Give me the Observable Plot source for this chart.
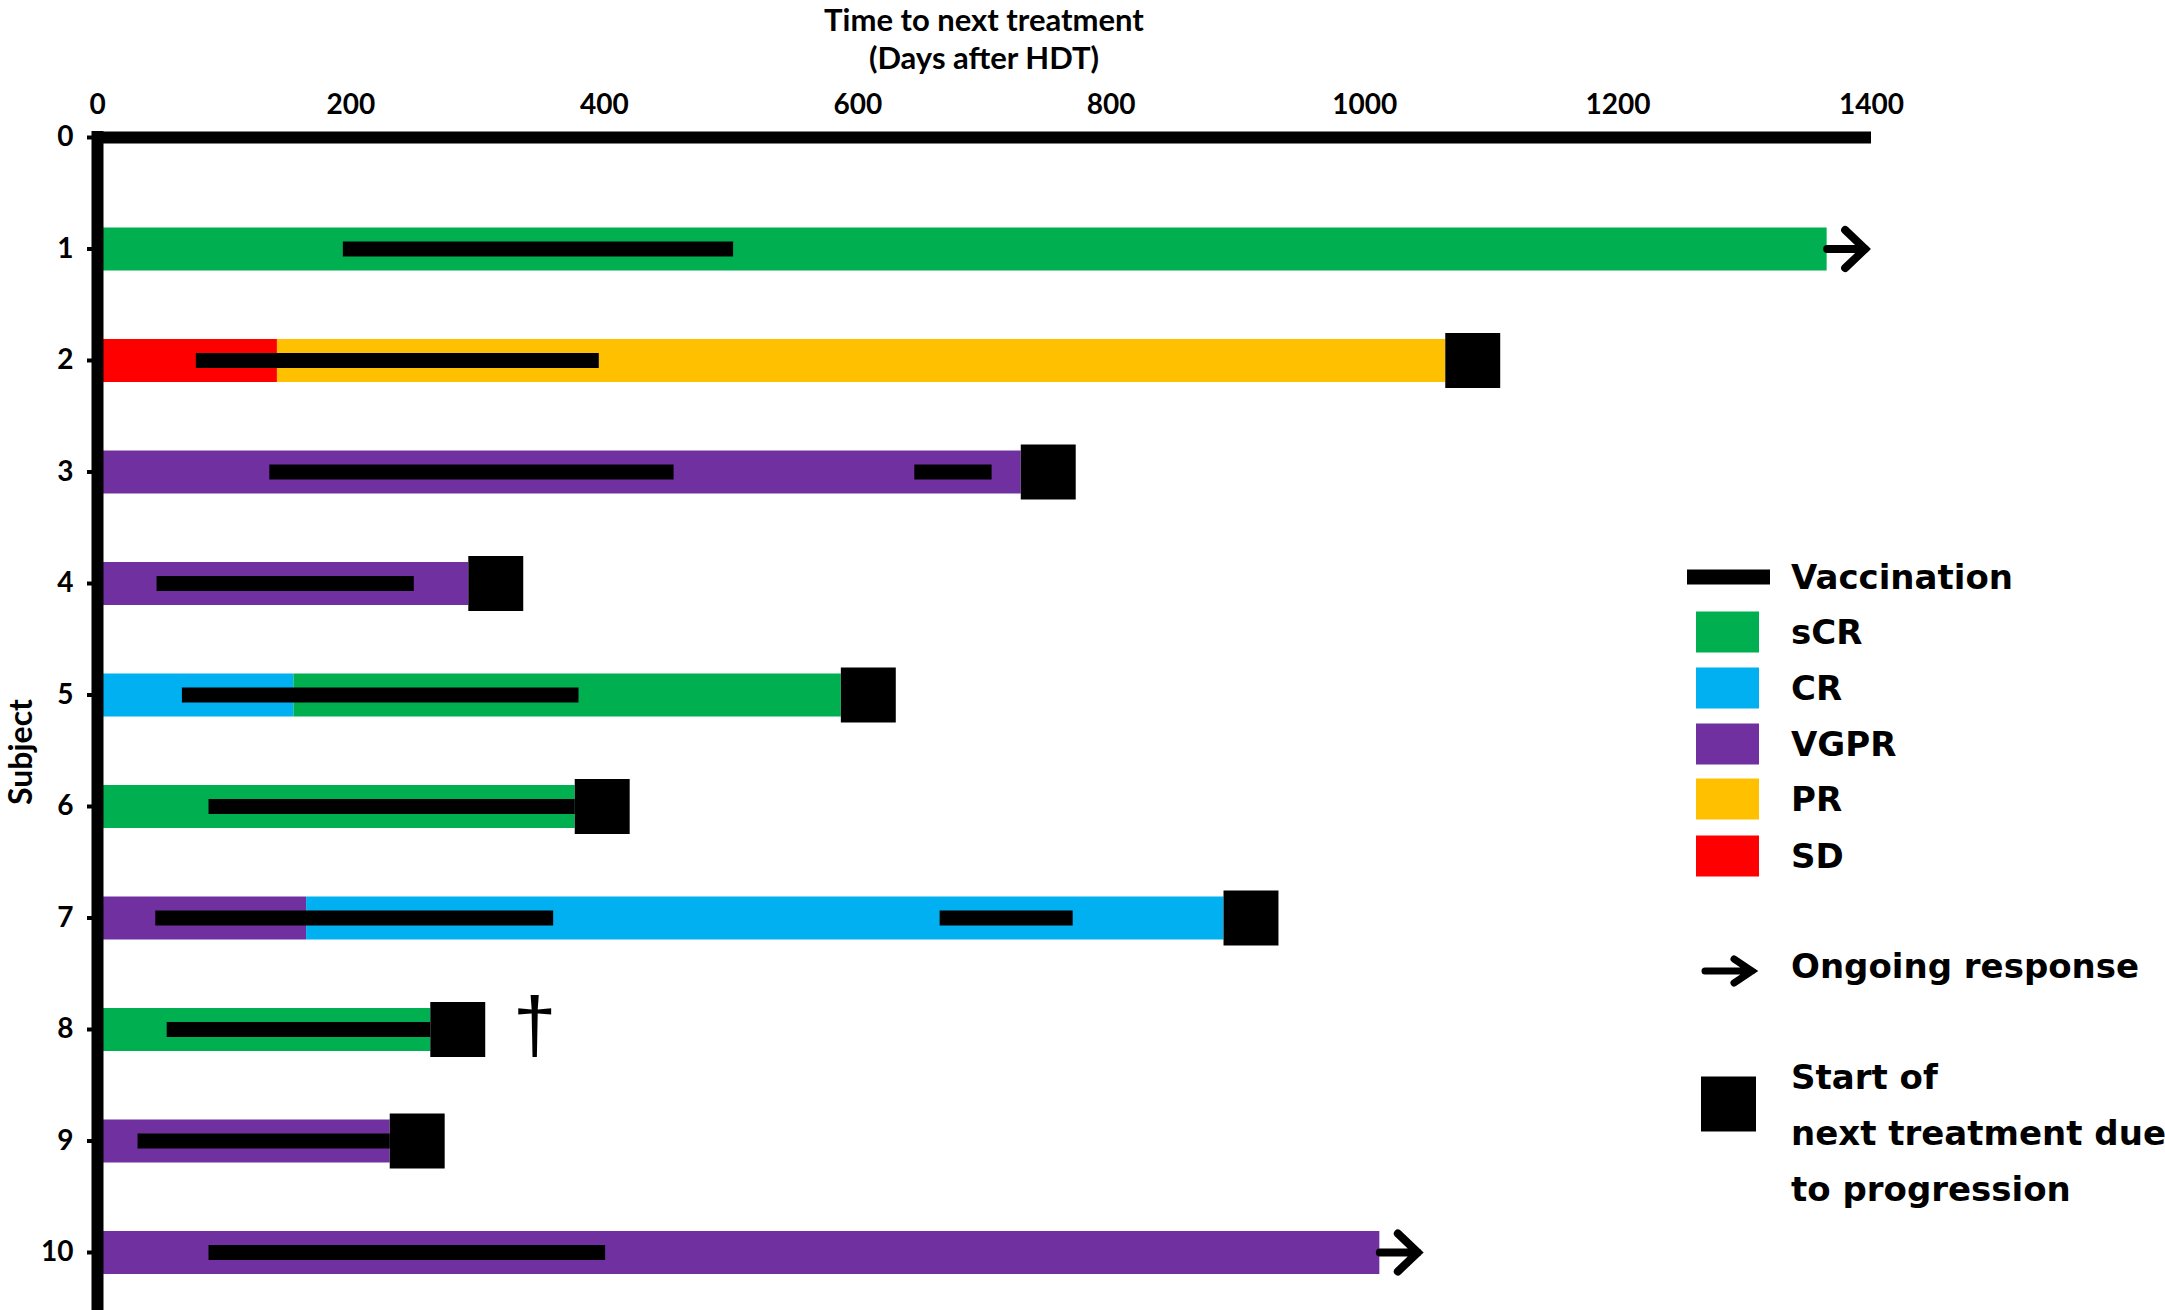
<!DOCTYPE html>
<html>
<head>
<meta charset="utf-8">
<script src="https://cdn.jsdelivr.net/npm/d3@7"></script>
<script src="https://cdn.jsdelivr.net/npm/@observablehq/plot@0.6"></script>
<style>
  body { margin: 0; background: #fff; }
  #wrap { position: relative; width: 2165px; height: 1310px; overflow: hidden; background: #fff; }
  #title { position: absolute; left: 0; top: 0px; width: 1968px; text-align: center;
           font-family: Lato, "Open Sans", sans-serif; font-weight: 700; font-size: 31px; line-height: 38px; color: #000; }
  #ylab { position: absolute; left: 20px; top: 752px; transform: translate(-50%, -50%) rotate(-90deg);
          font-family: Lato, "Open Sans", sans-serif; font-weight: 700; font-size: 32px; line-height: 34px; color: #000; white-space: nowrap; }
  #chart { position: absolute; left: 0; top: 80px; }
  .lg { position: absolute; font-family: "DejaVu Sans", Verdana, sans-serif; font-weight: 700; font-size: 34px; color: #000;
        white-space: nowrap; line-height: 1; transform: translateY(-50%); }
  .sw { position: absolute; transform: translateY(-50%); }
</style>
</head>
<body>
<div id="wrap">
  <div id="title">Time to next treatment<br>(Days after HDT)</div>
  <div id="ylab">Subject</div>
  <div id="chart"></div>
  <div id="legend"></div>
</div>
<script>
// ---- data ----
const xTicks = [0, 200, 400, 600, 800, 1000, 1200, 1400];
const yTicks = [0, 1, 2, 3, 4, 5, 6, 7, 8, 9, 10];

const responseCategories = ["sCR", "CR", "VGPR", "PR", "SD"];
const responseColors = ["#00B050", "#00B0F0", "#7030A0", "#FFC000", "#FF0000"];

// response segments (days after HDT)
const segSubject  = [1, 2, 2, 3, 4, 5, 5, 6, 7, 7, 8, 9, 10];
const segResponse = ["sCR", "SD", "PR", "VGPR", "VGPR", "CR", "sCR", "sCR", "VGPR", "CR", "sCR", "VGPR", "VGPR"];
const segStart    = [0, 0, 142, 0, 0, 0, 155, 0, 0, 165, 0, 0, 0];
const segEnd      = [1365, 142, 1064, 729, 293, 155, 587, 377, 165, 889, 263, 231, 1012];

// vaccination periods
const vacSubject = [1, 2, 3, 3, 4, 5, 6, 7, 7, 8, 9, 10];
const vacStart   = [194, 78, 136, 645, 47, 67, 88, 46, 665, 55, 32, 88];
const vacEnd     = [502, 396, 455, 706, 250, 380, 377, 360, 770, 263, 231, 401];

// start of next treatment due to progression
const progSubject = [2, 3, 4, 5, 6, 7, 8, 9];
const progDay     = [1064, 729, 293, 587, 377, 889, 263, 231];

// ongoing response
const ongoingSubject = [1, 10];
const ongoingDay     = [1365, 1012];

// death
const deathSubject = [8];
const deathDay     = [345];

// ---- tables ----
const segments = segSubject.map((s, i) => ({subject: s, response: segResponse[i], start: segStart[i], end: segEnd[i]}));
const vaccinations = vacSubject.map((s, i) => ({subject: s, start: vacStart[i], end: vacEnd[i]}));
const progressions = progSubject.map((s, i) => ({subject: s, day: progDay[i]}));
const ongoing = ongoingSubject.map((s, i) => ({subject: s, day: ongoingDay[i]}));
const deaths = deathSubject.map((s, i) => ({subject: s, day: deathDay[i]}));
const topAxis = [{y: yTicks[0], x1: xTicks[0], x2: xTicks[xTicks.length - 1]}];

const chevron = {
  draw(context) {
    context.moveTo(0, 0);
    context.lineTo(38, 0);
    context.moveTo(18, -19);
    context.lineTo(38, 0);
    context.lineTo(18, 19);
  }
};

const chart = Plot.plot({
  width: 2165,
  height: 1230,
  marginLeft: 97,
  marginRight: 294,
  marginTop: 57,
  marginBottom: 58,
  style: {fontFamily: "Lato, 'Open Sans', sans-serif", fontWeight: "700", fontSize: "27px", color: "#000", background: "transparent"},
  x: {domain: [xTicks[0], xTicks[xTicks.length - 1]], axis: null},
  y: {domain: [yTicks[0], yTicks[yTicks.length - 1]], reverse: true, axis: null},
  color: {domain: responseCategories, range: responseColors},
  marks: [
    Plot.ruleY(segments, {y: "subject", x1: "start", x2: "end", stroke: "response", strokeWidth: 43}),
    Plot.ruleY(vaccinations, {y: "subject", x1: "start", x2: "end", stroke: "black", strokeWidth: 15}),
    Plot.dot(progressions, {x: "day", y: "subject", symbol: "square", r: 31, fill: "black", dx: 27}),
    Plot.dot(ongoing, {x: "day", y: "subject", symbol: chevron, r: 10, fill: "none", stroke: "black", strokeWidth: 8, strokeLinecap: "round", strokeLinejoin: "miter"}),
    Plot.text(deaths, {x: "day", y: "subject", text: () => "\u2020", fontSize: 78, fontWeight: "400", fontFamily: "Liberation Sans, Arial, sans-serif", dy: -2}),
    Plot.ruleY(topAxis, {y: "y", x1: "x1", x2: "x2", stroke: "black", strokeWidth: 12}),
    Plot.ruleX([xTicks[0]], {stroke: "black", strokeWidth: 12, insetTop: -6, insetBottom: -70}),
    Plot.axisX(xTicks, {anchor: "top", tickSize: 0, tickPadding: 24, label: null, fontSize: 28, tickFormat: d => String(d)}),
    Plot.axisY(yTicks, {anchor: "left", tickSize: 10, tickPadding: 14, label: null, strokeWidth: 4, fontSize: 28, tickFormat: d => String(d)})
  ]
});
document.getElementById("chart").appendChild(chart);

// ---- legend (HTML) ----
const legend = document.getElementById("legend");
function addText(txt, x, y) {
  const d = document.createElement("div");
  d.className = "lg"; d.textContent = txt;
  d.style.left = x + "px"; d.style.top = y + "px";
  legend.appendChild(d);
}
function addBox(x, y, w, h, color) {
  const d = document.createElement("div");
  d.className = "sw";
  d.style.left = x + "px"; d.style.top = y + "px";
  d.style.width = w + "px"; d.style.height = h + "px";
  d.style.background = color;
  legend.appendChild(d);
}
const textX = 1791;
addBox(1687, 577, 83, 15, "#000");
addText("Vaccination", textX, 577);
const swY = [632, 688, 744, 799, 856];
responseCategories.forEach((c, i) => {
  addBox(1696, swY[i], 63, 41, responseColors[i]);
  addText(c, textX, swY[i]);
});
// arrow
const ns = "http://www.w3.org/2000/svg";
const asvg = document.createElementNS(ns, "svg");
asvg.setAttribute("width", 60); asvg.setAttribute("height", 40);
asvg.style.position = "absolute"; asvg.style.left = "1700px"; asvg.style.top = "951px";
const ap = document.createElementNS(ns, "path");
ap.setAttribute("d", "M5,20 L52,20 M34,8 L52,20 L34,32");
ap.setAttribute("stroke", "#000"); ap.setAttribute("stroke-width", "7"); ap.setAttribute("fill", "none");
ap.setAttribute("stroke-linecap", "round");
asvg.appendChild(ap); legend.appendChild(asvg);
addText("Ongoing response", textX, 966);
addBox(1701, 1104, 55, 55, "#000");
addText("Start of", textX, 1077);
addText("next treatment due", textX, 1133);
addText("to progression", textX, 1189);
</script>
</body>
</html>
